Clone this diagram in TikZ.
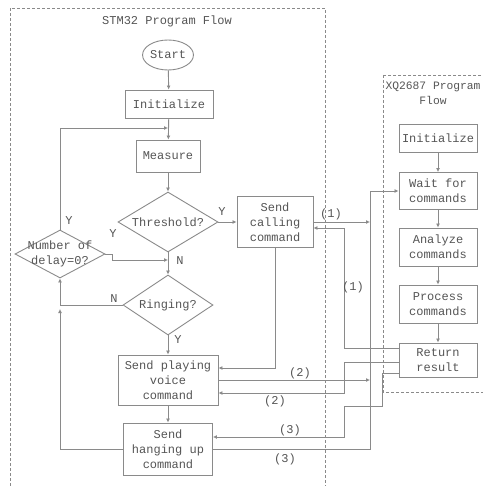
\documentclass[tikz,border=0pt]{standalone}
\usepackage{fontspec}
\setmainfont{Liberation Mono}
\usetikzlibrary{shapes, arrows.meta, positioning, calc}
\definecolor{linegray}{HTML}{8A8A8A}
\definecolor{textgray}{HTML}{555555}
\tikzset{
    every node/.style={text=textgray, font=\fontsize{12}{15}\selectfont},
    startstop/.style={
        ellipse, minimum width=45pt, minimum height=30pt, inner sep=0pt,
        draw=linegray, line width=0.9pt
    },
    process/.style={
        rectangle, align=center, draw=linegray, line width=0.9pt, inner sep=2pt
    },
    decision/.style={
        diamond, draw=linegray, line width=0.9pt, inner sep=0pt
    },
    frame/.style={
        draw=linegray, line width=0.8pt, dash pattern=on 3pt off 2pt
    },
    arrow/.style={
        draw=linegray, line width=0.9pt, -{Latex[length=4pt, width=4pt]}
    },
    tag/.style={inner sep=1pt}
}
\begin{document}
\begin{tikzpicture}[x=1pt, y=-1pt]
    \useasboundingbox (0,0) rectangle (482,486);
    % program frames
    \draw[frame] (10,496) -- (10,8) -- (325,8) -- (325,496);
    \draw[frame] (383,75) rectangle (495,392);
    \node (stmtitle) at (167,21) {STM32 Program Flow};
    \node[align=center, font=\fontsize{11.3}{15}\selectfont] (xqtitle) at (433,93) {XQ2687 Program\\Flow};

    % STM32 side
    \node[startstop] (start) at (168,55) {Start};
    \node[process, minimum width=88pt, minimum height=28pt] (init1) at (169,104) {Initialize};
    \node[process, minimum width=64pt, minimum height=32pt] (measure) at (168,156) {Measure};
    \node[decision, minimum width=100pt, minimum height=60pt,
          label={center:Threshold?}] (thresh) at (168,222) {};
    \node[process, minimum width=76pt, minimum height=51pt] (call) at (275,222) {Send\\calling\\command};
    \node[decision, minimum width=90pt, minimum height=48pt,
          label={[align=center]center:Number of\\delay=0?}] (delay) at (60,254) {};
    \node[decision, minimum width=90pt, minimum height=60pt,
          label={center:Ringing?}] (ringing) at (168,305) {};
    \node[process, minimum width=100pt, minimum height=50pt] (voice) at (168,380) {Send playing\\voice\\command};
    \node[process, minimum width=89pt, minimum height=52pt] (hang) at (168,449) {Send\\hanging up\\command};

    % XQ2687 side
    \node[process, minimum width=78pt, minimum height=28pt] (init2) at (438,138) {Initialize};
    \node[process, minimum width=78pt, minimum height=37pt] (wait) at (438,191) {Wait for\\commands};
    \node[process, minimum width=78pt, minimum height=38pt] (analyze) at (438,247) {Analyze\\commands};
    \node[process, minimum width=78pt, minimum height=38pt] (proc) at (438,304) {Process\\commands};
    \node[process, minimum width=78pt, minimum height=34pt] (result) at (438,360) {Return\\result};

    % helper points
    \coordinate (loopin) at (168,128);
    \coordinate (nin) at (168,260);
    \coordinate (rjoin) at (60,309);
    \coordinate (bustop) at (370,191);
    \coordinate (ret1) at (344,228);
    \coordinate (ret2) at (344,393);
    \coordinate (hop3) at (382,406);
    \coordinate (ret3) at (344,437);

    % STM32 flow
    \draw[arrow] (start) -- (init1);
    \draw[arrow] (init1) -- (measure);
    \draw[arrow] (delay.north) |- (loopin);
    \draw[arrow] (measure) -- (thresh);
    \draw[arrow] (thresh.east) -- (call.west);
    \draw[arrow] (thresh.south) -- (ringing.north);
    \draw[arrow] (delay.east) -- ++(7,0) |- (nin);
    \draw[arrow] (ringing.west) -| (delay.south);
    \draw[arrow] (hang.west) -| (rjoin);
    \draw[arrow] (ringing.south) -- (voice.north);
    \draw[arrow] (call.south) |- ([yshift=12pt]voice.east);
    \draw[arrow] (voice.south) -- (hang.north);

    % commands to XQ2687
    \draw[arrow] (hang.east) -- (hang.east -| bustop) -- (bustop) -- (wait.west);
    \draw[arrow] (call.east) -- (call.east -| bustop);
    \draw[arrow] (voice.east) -- (voice.east -| bustop);
    % results back
    \draw[arrow] ([yshift=12pt]result.west) -| (ret1) -- ([yshift=-6pt]call.east);
    \draw[arrow] ([yshift=-2pt]result.west) -| (ret2) -- ([yshift=-13pt]voice.east);
    \draw[arrow] ([yshift=-13pt]result.west) -| (hop3) -| (ret3) -- ([yshift=12pt]hang.east);
    \draw[arrow] (init2) -- (wait);
    \draw[arrow] (wait) -- (analyze);
    \draw[arrow] (analyze) -- (proc);
    \draw[arrow] (proc) -- (result);

    % branch labels
    \node[tag] (ythresh) at (222,212) {Y};
    \node[tag] (ythleft) at (113,234) {Y};
    \node[tag] (nthresh) at (180,261) {N};
    \node[tag] (ydelay) at (69,221) {Y};
    \node[tag] (nring) at (114,299) {N};
    \node[tag] (yring) at (178,340) {Y};
    \node[tag] (c1a) at (331,214) {(1)};
    \node[tag] (c1b) at (353,287) {(1)};
    \node[tag] (c2a) at (300,373) {(2)};
    \node[tag] (c2b) at (275,401) {(2)};
    \node[tag] (c3a) at (290,430) {(3)};
    \node[tag] (c3b) at (285,459) {(3)};
\end{tikzpicture}
\end{document}
